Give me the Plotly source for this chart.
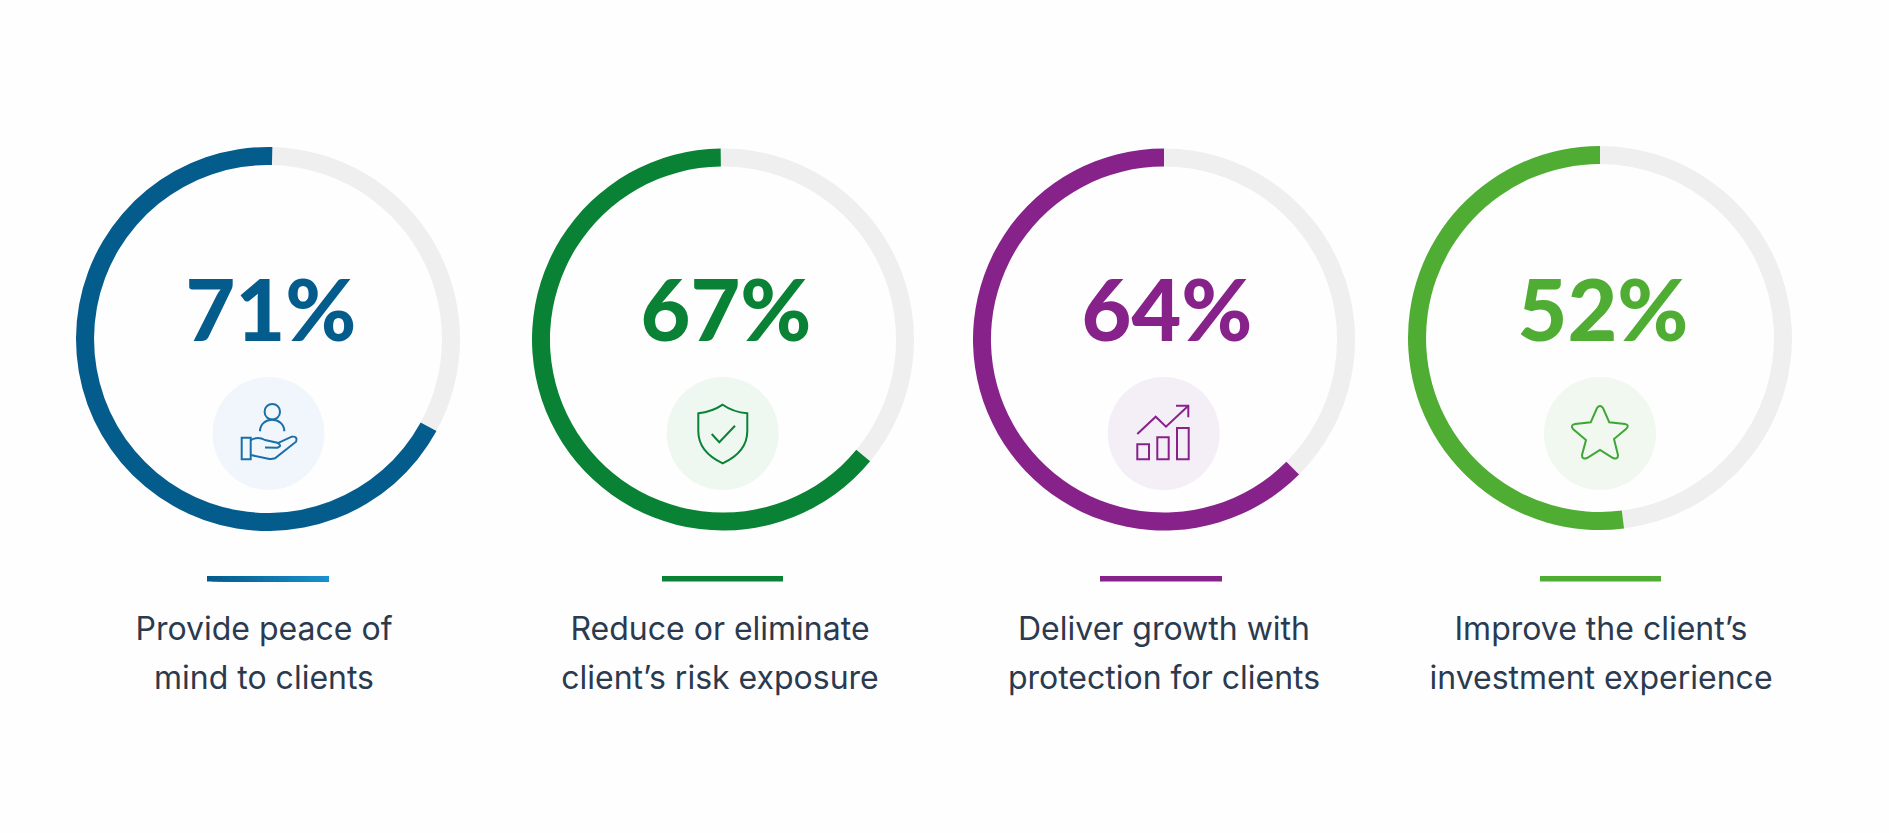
import plotly.graph_objects as go

W, H = 1889, 833

# percent printed in each ring, and the share of the ring that is actually coloured
pct_labels = ["71%", "67%", "64%", "52%"]
arc_values = [67.4, 63.8, 62.5, 52]

line1 = ["Provide peace of", "Reduce or eliminate", "Deliver growth with", "Improve the client’s"]
line2 = ["mind to clients", "client’s risk exposure", "protection for clients", "investment experience"]

colors = ["#045C8C", "#0A8236", "#86228A", "#4FAD33"]
tints = ["#F0F6FB", "#EFF7F1", "#F4EEF7", "#F0F8EF"]
track = "#EFEFEF"
text_color = "#2B3A4E"

# layout, in page pixels
ring_x = [268, 723, 1164, 1600]
ring_y = [339, 339.5, 339.5, 338]
ring_r = [192, 191, 191, 192]
ring_rot = [1.3, -0.7, 0, 0]
label_x = [264, 720, 1164, 1601]
bar_x = [(207, 329), (662, 783), (1100, 1222), (1540, 1661)]
badge_x = [268.5, 722.7, 1163.7, 1600]

# icon outlines as svg paths in page pixels
icons = [
    ["M264.6,411.7 C264.6,401.4 280,401.4 280,411.7 C280,422 264.6,422 264.6,411.7 Z",
     "M260,431.3 C260,416 284.3,416 284.3,431.3",
     "M241.7,437.7 L250.7,437.7 L250.7,459.3 L241.7,459.3 Z",
     "M250.7,440 Q258,436 265,440 L277.3,442.7 Q283,446 277.3,447.7 L265,447.5",
     "M277.3,443.3 L291.7,436.7 Q298,436 296,441.7 L275,458.3 Q271,459.5 268.3,458.7 L250.7,455"],
    ["M722.7,404.7 Q712,412 698.3,413.3 L698.3,431 Q698.3,452 722.7,463.3 "
     "Q747.3,452 747.3,431 L747.3,413.3 Q733,412 722.7,404.7 Z",
     "M711.7,434 L719.3,442.3 L735,425.7"],
    ["M1137.3,434 L1155.7,416.7 L1166,426.7 L1188.3,405.7",
     "M1176,405.7 L1188.3,405.7 L1188.3,417.3",
     "M1137.3,444.3 L1149,444.3 L1149,459.3 L1137.3,459.3 Z",
     "M1157.3,437.3 L1168.7,437.3 L1168.7,459.3 L1157.3,459.3 Z",
     "M1177,428 L1188.7,428 L1188.7,459.3 L1177,459.3 Z"],
    ["M1597,408 Q1600,404 1603,408 L1609.3,422.3 L1625,424 Q1630,425 1626,429 L1614,439 "
     "L1618,455 Q1618,460 1613,458 L1600,450 L1587,458 Q1582,460 1582,455 L1586,440 "
     "L1573,429 Q1570,425 1575,424 L1590.7,422.3 Z"],
]
icon_colors = ["#1B6FA8", "#0A8236", "#86228A", "#3FA535"]

fig = go.Figure()

# rings, clockwise from 12 o'clock: grey part first, coloured part closes back at the top
for i in range(4):
    fig.add_trace(go.Pie(
        values=[100 - arc_values[i], arc_values[i]],
        sort=False, direction="clockwise", rotation=ring_rot[i], hole=0.906,
        marker=dict(colors=[track, colors[i]], line=dict(width=0)),
        textinfo="none", hoverinfo="skip", showlegend=False,
        domain=dict(x=[(ring_x[i] - ring_r[i]) / W, (ring_x[i] + ring_r[i]) / W],
                    y=[1 - (ring_y[i] + ring_r[i]) / H, 1 - (ring_y[i] - ring_r[i]) / H]),
    ))

# big percentages
for i in range(4):
    fig.add_trace(go.Scatter(
        x=[ring_x[i] + 3], y=[319], mode="text", text=[pct_labels[i]],
        textfont=dict(family="Lato", size=86, color=colors[i], weight=900),
        hoverinfo="skip", showlegend=False,
    ))

# captions, one trace per line
for lines, y in ((line1, 632), (line2, 681)):
    fig.add_trace(go.Scatter(
        x=label_x, y=[y] * 4, mode="text", text=lines,
        textfont=dict(family="Inter", size=32, color=text_color),
        hoverinfo="skip", showlegend=False,
    ))

shapes = []
for i in range(4):
    shapes.append(dict(type="circle", xref="x", yref="y", x0=badge_x[i] - 56, x1=badge_x[i] + 56,
                       y0=377, y1=490, fillcolor=tints[i], line=dict(width=0)))
    for path in icons[i]:
        shapes.append(dict(type="path", xref="x", yref="y", path=path,
                           line=dict(color=icon_colors[i], width=2)))
    # rule under the ring; the first one fades to a lighter blue
    x0, x1 = bar_x[i]
    if i == 0:
        n = 24
        for k in range(n):
            t = k / (n - 1)
            c = "rgb(%d,%d,%d)" % (4 + t * 22, 92 + t * 52, 140 + t * 64)
            shapes.append(dict(type="rect", xref="x", yref="y",
                               x0=x0 + (x1 - x0) * k / n, x1=x1,
                               y0=576, y1=581.5, fillcolor=c, line=dict(width=0)))
    else:
        shapes.append(dict(type="rect", xref="x", yref="y", x0=x0, x1=x1, y0=576, y1=581.5,
                           fillcolor=colors[i], line=dict(width=0)))

fig.update_layout(
    width=W, height=H, margin=dict(l=0, r=0, t=0, b=0),
    paper_bgcolor="#FEFEFE", plot_bgcolor="rgba(0,0,0,0)",
    xaxis=dict(range=[0, W], visible=False, fixedrange=True),
    yaxis=dict(range=[H, 0], visible=False, fixedrange=True),
    shapes=shapes,
)

fig.write_html("out.html", config=dict(displayModeBar=False),
               post_script="document.body.style.margin='0';")
